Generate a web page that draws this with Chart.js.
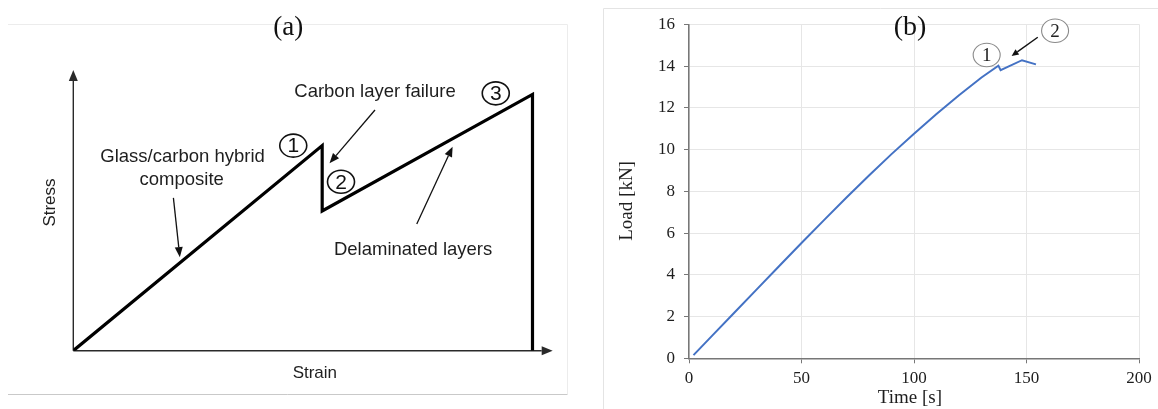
<!DOCTYPE html>
<html><head><meta charset="utf-8">
<script src="https://cdn.jsdelivr.net/npm/chart.js@4/dist/chart.umd.min.js"></script>
<style>
html,body{margin:0;padding:0;background:#fff;}
#wrap{position:relative;width:1158px;height:409px;overflow:hidden;background:#fff;}
#ca{position:absolute;left:0;top:0;}
#cb{position:absolute;left:580px;top:0;}
</style></head><body>
<div id="wrap"><canvas id="ca" width="580" height="409"></canvas><canvas id="cb" width="578" height="409"></canvas></div>
<script>
// ---------- Panel (a): schematic stress-strain ----------
const strainA = [0, 54.2, 54.2, 100, 100];
const stressA = [0, 80, 54.5, 100, 0];
const strainMaxA = 104.4;   // arrow tip of the strain axis
const stressMaxA = 109.5;   // arrow tip of the stress axis

// ---------- Panel (b): load-time test record ----------
const timeS  = [2, 10, 20, 30, 40, 50, 60, 70, 80, 90, 100, 110, 120, 130, 137.5, 138.5, 148, 154.2];
const loadKN = [0.15, 1.05, 2.17, 3.29, 4.41, 5.52, 6.62, 7.7, 8.76, 9.78, 10.76, 11.7, 12.6, 13.45, 14.02, 13.8, 14.28, 14.08];
const loadTicks = [0, 2, 4, 6, 8, 10, 12, 14, 16];
const timeTicks = [0, 50, 100, 150, 200];

// annotations, in data coordinates of each panel
const notesA = {
  title: {text: '(a)', x: 46.8, y: 125.9},
  labels: [
    {text: 'Carbon layer failure', x: 65.7, y: 101.0},
    {text: 'Glass/carbon hybrid', x: 23.8, y: 75.7},
    {text: 'composite', x: 23.6, y: 66.6},
    {text: 'Delaminated layers', x: 74.0, y: 39.5}
  ],
  arrows: [
    {from: [21.8, 59.6], to: [23.2, 36.5]},
    {from: [65.7, 93.9], to: [55.8, 73.1]},
    {from: [74.8, 49.4], to: [82.6, 79.6]}
  ],
  circles: [
    {text: '1', x: 47.9, y: 80.0},
    {text: '2', x: 58.3, y: 65.9},
    {text: '3', x: 92.0, y: 100.4}
  ],
  xTitle: {text: 'Strain', x: 52.6, y: -8.8},
  yTitle: {text: 'Stress', x: -5.1, y: 57.8}
};
const notesB = {
  title: {text: '(b)', x: 98.2, y: 15.82},
  circles: [
    {text: '1', x: 132.3, y: 14.53},
    {text: '2', x: 162.7, y: 15.69}
  ],
  arrows: [{from: [155.0, 15.38], to: [143.4, 14.48]}],
  xTitle: {text: 'Time [s]', x: 98.2, y: -1.9},
  yTitle: {text: 'Load [kN]', x: -27.7, y: 7.54}
};

function px(chart, x, y) {
  return [chart.scales.x.getPixelForValue(x), chart.scales.y.getPixelForValue(y)];
}
function drawText(ctx, s, x, y, font, color, rot) {
  ctx.save();
  ctx.font = font; ctx.fillStyle = color;
  ctx.textAlign = 'center'; ctx.textBaseline = 'middle';
  ctx.translate(x, y);
  if (rot) ctx.rotate(rot);
  ctx.fillText(s, 0, 0);
  ctx.restore();
}
function drawArrow(ctx, x1, y1, x2, y2, lw, headLen, headW, color) {
  const a = Math.atan2(y2 - y1, x2 - x1);
  const bx = x2 - headLen * Math.cos(a), by = y2 - headLen * Math.sin(a);
  ctx.save();
  ctx.strokeStyle = color; ctx.fillStyle = color; ctx.lineWidth = lw;
  ctx.beginPath(); ctx.moveTo(x1, y1); ctx.lineTo(bx, by); ctx.stroke();
  ctx.beginPath();
  ctx.moveTo(x2, y2);
  ctx.lineTo(bx + headW * Math.sin(a), by - headW * Math.cos(a));
  ctx.lineTo(bx - headW * Math.sin(a), by + headW * Math.cos(a));
  ctx.closePath(); ctx.fill();
  ctx.restore();
}
function drawCircled(ctx, s, x, y, rx, ry, lw, stroke, font, color) {
  ctx.save();
  ctx.fillStyle = '#fff'; ctx.strokeStyle = stroke; ctx.lineWidth = lw;
  ctx.beginPath(); ctx.ellipse(x, y, rx, ry, 0, 0, Math.PI * 2); ctx.fill(); ctx.stroke();
  ctx.restore();
  drawText(ctx, s, x, y + 1, font, color);
}

const panelA = {
  id: 'panelA',
  beforeDatasetsDraw(chart) {
    const ctx = chart.ctx;
    ctx.save();
    ctx.lineWidth = 1;
    ctx.strokeStyle = '#ececec';
    ctx.beginPath(); ctx.moveTo(8, 24.5); ctx.lineTo(567.5, 24.5); ctx.lineTo(567.5, 394); ctx.stroke();
    ctx.strokeStyle = '#c9c9c9';
    ctx.beginPath(); ctx.moveTo(8, 394.5); ctx.lineTo(567.5, 394.5); ctx.stroke();
    ctx.restore();
    const [ox, oy] = px(chart, 0, 0);
    const [tx] = px(chart, strainMaxA, 0);
    const [, ty] = px(chart, 0, stressMaxA);
    drawArrow(ctx, ox, oy, ox, ty, 1.4, 11, 4.5, '#2a2a2a');
    drawArrow(ctx, ox, oy, tx, oy, 1.4, 11, 4.5, '#2a2a2a');
  },
  afterDraw(chart) {
    const ctx = chart.ctx, n = notesA;
    let p = px(chart, n.title.x, n.title.y);
    drawText(ctx, n.title.text, p[0], p[1], '27px "Liberation Serif"', '#111');
    n.labels.forEach(l => { const q = px(chart, l.x, l.y); drawText(ctx, l.text, q[0], q[1], '18.5px "Liberation Sans"', '#1e1e1e'); });
    n.arrows.forEach(r => { const f = px(chart, r.from[0], r.from[1]), t = px(chart, r.to[0], r.to[1]); drawArrow(ctx, f[0], f[1], t[0], t[1], 1.3, 10, 4, '#111'); });
    n.circles.forEach(c => { const q = px(chart, c.x, c.y); drawCircled(ctx, c.text, q[0], q[1], 13.5, 11.5, 1.6, '#111', '21px "Liberation Sans"', '#111'); });
    p = px(chart, n.xTitle.x, n.xTitle.y);
    drawText(ctx, n.xTitle.text, p[0], p[1], '17px "Liberation Sans"', '#1e1e1e');
    p = px(chart, n.yTitle.x, n.yTitle.y);
    drawText(ctx, n.yTitle.text, p[0], p[1], '17px "Liberation Sans"', '#1e1e1e', -Math.PI / 2);
  }
};

new Chart(document.getElementById('ca'), {
  type: 'scatter',
  data: {datasets: [{
    data: strainA.map((v, i) => ({x: v, y: stressA[i]})),
    showLine: true, borderColor: '#000', borderWidth: 3.2, pointRadius: 0,
    borderJoinStyle: 'miter', tension: 0, fill: false
  }]},
  options: {
    responsive: false, devicePixelRatio: 1, animation: false,
    layout: {padding: {left: 73.3, right: 27.3, top: 70, bottom: 58.3}},
    plugins: {legend: {display: false}, tooltip: {enabled: false}},
    scales: {
      x: {type: 'linear', min: 0, max: strainMaxA, display: false},
      y: {type: 'linear', min: 0, max: stressMaxA, display: false}
    }
  },
  plugins: [panelA]
});

const panelB = {
  id: 'panelB',
  beforeDraw(chart) {
    const ctx = chart.ctx;
    ctx.save();
    ctx.lineWidth = 1;
    ctx.strokeStyle = '#e4e4e4';
    ctx.beginPath(); ctx.moveTo(23.5, 409); ctx.lineTo(23.5, 8.5); ctx.lineTo(578, 8.5); ctx.stroke();
    ctx.restore();
  },
  afterDraw(chart) {
    const ctx = chart.ctx, n = notesB;
    let p = px(chart, n.title.x, n.title.y);
    drawText(ctx, n.title.text, p[0], p[1], '28px "Liberation Serif"', '#111');
    n.arrows.forEach(r => { const f = px(chart, r.from[0], r.from[1]), t = px(chart, r.to[0], r.to[1]); drawArrow(ctx, f[0], f[1], t[0], t[1], 1.4, 7, 3.2, '#111'); });
    n.circles.forEach(c => { const q = px(chart, c.x, c.y); drawCircled(ctx, c.text, q[0], q[1], 13.5, 11.8, 1.1, '#8a8a8a', '19px "Liberation Serif"', '#222'); });
    p = px(chart, n.xTitle.x, n.xTitle.y);
    drawText(ctx, n.xTitle.text, p[0], p[1], '19px "Liberation Serif"', '#1e1e1e');
    p = px(chart, n.yTitle.x, n.yTitle.y);
    drawText(ctx, n.yTitle.text, p[0], p[1], '19px "Liberation Serif"', '#1e1e1e', -Math.PI / 2);
  }
};

new Chart(document.getElementById('cb'), {
  type: 'scatter',
  data: {datasets: [{
    data: timeS.map((v, i) => ({x: v, y: loadKN[i]})),
    showLine: true, borderColor: '#4472C4', borderWidth: 2, pointRadius: 0,
    tension: 0, fill: false
  }]},
  options: {
    responsive: false, devicePixelRatio: 1, animation: false,
    layout: {padding: {left: 0, right: 19, top: 24.3, bottom: 0}},
    plugins: {legend: {display: false}, tooltip: {enabled: false}},
    scales: {
      x: {
        type: 'linear', min: 0, max: 200,
        afterBuildTicks: s => { s.ticks = timeTicks.map(v => ({value: v})); },
        afterFit: s => { s.height = 50.7; },
        grid: {color: '#e6e6e6', lineWidth: 1, tickLength: 5, tickColor: '#777'},
        border: {color: '#777', width: 1.5},
        ticks: {font: {family: 'Liberation Serif', size: 17}, color: '#1e1e1e', padding: 5, maxRotation: 0}
      },
      y: {
        type: 'linear', min: 0, max: 16,
        afterBuildTicks: s => { s.ticks = loadTicks.map(v => ({value: v})); },
        afterFit: s => { s.width = 109; },
        grid: {color: '#e6e6e6', lineWidth: 1, tickLength: 5, tickColor: '#777'},
        border: {color: '#777', width: 1.5},
        ticks: {font: {family: 'Liberation Serif', size: 17}, color: '#1e1e1e', padding: 9}
      }
    }
  },
  plugins: [panelB]
});
</script>
</body></html>
